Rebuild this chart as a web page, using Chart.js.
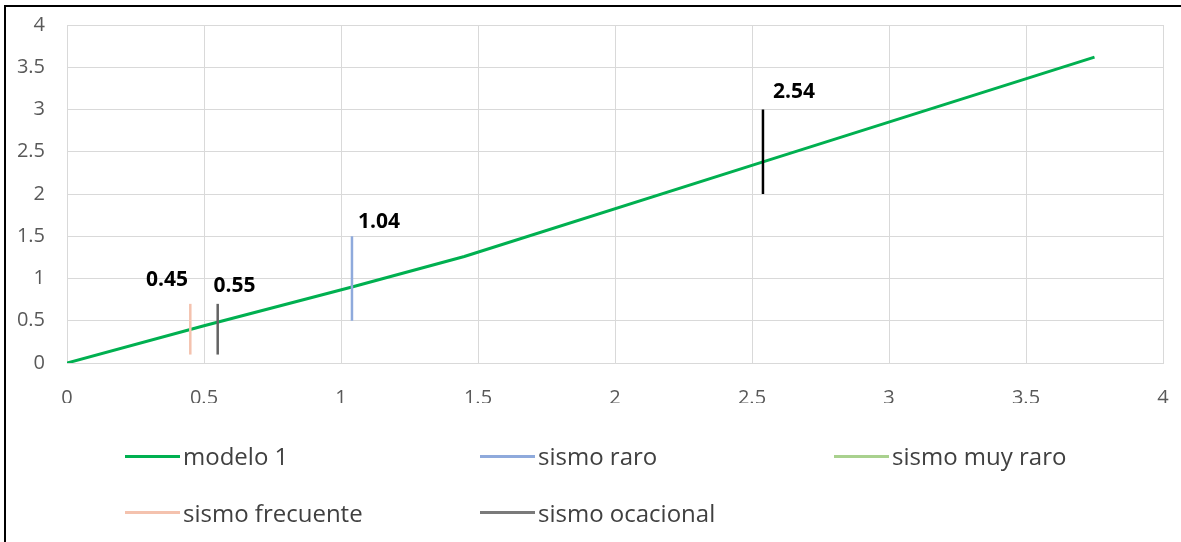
<!DOCTYPE html>
<html>
<head>
<meta charset="utf-8">
<script src="https://cdn.jsdelivr.net/npm/chart.js@4/dist/chart.umd.min.js"></script>
<style>
  html, body { margin: 0; padding: 0; background: #fff; }
  #wrap { position: relative; width: 1181px; height: 542px; overflow: hidden; background: #fff; }
  #frame { position: absolute; left: 4px; top: 5px; right: -10px; bottom: -10px;
           border-left: 2px solid #000; border-top: 2px solid #000; pointer-events: none; }
  #chart { position: absolute; left: 0; top: 0; }
  .lg { position: absolute; height: 30px; display: flex; align-items: center;
        font-family: "Open Sans", sans-serif; font-size: 24px; line-height: 30px;
        color: #404040; white-space: nowrap; }
  .lg .sw { width: 55px; height: 3px; margin-right: 3px; }
</style>
</head>
<body>
<div id="wrap">
  <canvas id="chart" width="1181" height="542"></canvas>
  <div id="frame"></div>
  <div id="legend"></div>
</div>
<script>
// Capacity curve of "modelo 1"
const modeloX = [0, 0.5, 1.04, 1.45, 2.54, 3.75];
const modeloY = [0, 0.44, 0.90, 1.26, 2.38, 3.62];

// Performance points, each marked by a short vertical segment
const sismoNames = ['sismo raro', 'sismo muy raro', 'sismo frecuente', 'sismo ocacional'];
const sismoX     = [1.04, 2.54, 0.45, 0.55];
const sismoYMin  = [0.5, 2.0, 0.1, 0.1];
const sismoYMax  = [1.5, 3.0, 0.7, 0.7];

// Axis tick labels (both axes run 0..4 in steps of 0.5)
const tickLabels = ['0', '0.5', '1', '1.5', '2', '2.5', '3', '3.5', '4'];

// Styling
const modeloColor  = '#00B050';
const sismoColors  = ['#8FAADC', '#000000', '#F4C2AE', '#636363'];
const sismoLegend  = ['#8FAADC', '#A9D18E', '#F4C2AE', '#7A7A7A'];
const labelOffsets = [[27, -14.7], [31, -17.7], [-23.3, -24.3], [16.8, -17.6]];

const datasets = [{
  label: 'modelo 1',
  data: modeloX.map((x, i) => ({ x, y: modeloY[i] })),
  borderColor: modeloColor,
  borderWidth: 3,
  pointRadius: 0,
  tension: 0,
  order: 1
}];
sismoNames.forEach((name, i) => {
  datasets.push({
    label: name,
    data: [{ x: sismoX[i], y: sismoYMin[i] }, { x: sismoX[i], y: sismoYMax[i] }],
    borderColor: sismoColors[i],
    borderWidth: 2.5,
    pointRadius: 0,
    order: 0
  });
});

// Value labels above each vertical segment
const valueLabels = {
  id: 'valueLabels',
  afterDatasetsDraw(chart) {
    const { ctx, scales: { x, y } } = chart;
    ctx.save();
    ctx.font = 'bold 21px "Open Sans", sans-serif';
    ctx.fillStyle = '#000';
    ctx.textAlign = 'center';
    ctx.textBaseline = 'middle';
    sismoX.forEach((v, i) => {
      const px = x.getPixelForValue(v) + labelOffsets[i][0];
      const py = y.getPixelForValue(sismoYMax[i]) + labelOffsets[i][1];
      ctx.fillText(v.toFixed(2), px, py);
    });
    ctx.restore();
  }
};

const tickFont = { family: '"Open Sans", sans-serif', size: 20 };
const gridCfg = { color: '#D9D9D9', lineWidth: 1, drawTicks: false };

new Chart(document.getElementById('chart'), {
  type: 'line',
  data: { datasets },
  plugins: [valueLabels],
  options: {
    responsive: false,
    animation: false,
    events: [],
    layout: { padding: { left: 0, top: 25, right: 18, bottom: 139 } },
    plugins: { legend: { display: false }, tooltip: { enabled: false } },
    scales: {
      x: {
        type: 'linear', min: 0, max: 4,
        grid: gridCfg,
        border: { display: true, color: '#D9D9D9' },
        ticks: { stepSize: 0.5, padding: 23, color: '#595959', font: tickFont,
                 maxRotation: 0, autoSkip: false,
                 callback: (v, i) => tickLabels[i] },
        afterFit: s => { s.height = 40; s.paddingLeft = 0; s.paddingRight = 0; }
      },
      y: {
        type: 'linear', min: 0, max: 4,
        grid: gridCfg,
        border: { display: true, color: '#D9D9D9' },
        ticks: { stepSize: 0.5, padding: 22, color: '#595959', font: tickFont,
                 autoSkip: false,
                 callback: (v, i) => tickLabels[i] },
        afterFit: s => { s.width = 67; s.paddingTop = 0; s.paddingBottom = 0; }
      }
    }
  }
});

// Legend laid out in three columns, two rows
const legendNames  = ['modelo 1', ...sismoNames];
const legendColors = [modeloColor, ...sismoLegend];
const colLeft = [125, 480, 834];
const rowMid  = [456, 512.5];
const legendEl = document.getElementById('legend');
legendNames.forEach((name, i) => {
  const item = document.createElement('div');
  item.className = 'lg';
  item.style.left = colLeft[i % 3] + 'px';
  item.style.top = (rowMid[Math.floor(i / 3)] - 15) + 'px';
  const sw = document.createElement('span');
  sw.className = 'sw';
  sw.style.background = legendColors[i];
  const tx = document.createElement('span');
  tx.textContent = name;
  item.appendChild(sw);
  item.appendChild(tx);
  legendEl.appendChild(item);
});
</script>
</body>
</html>
